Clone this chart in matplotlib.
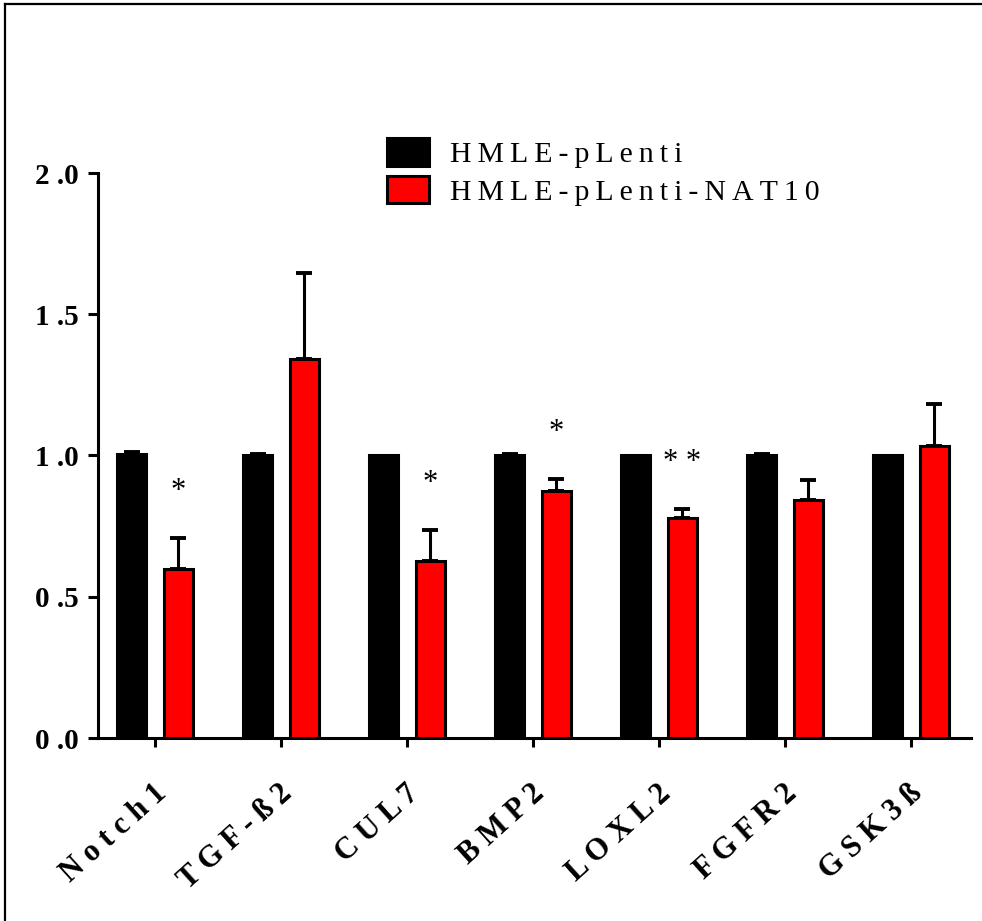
import matplotlib
matplotlib.use("Agg")
import matplotlib.pyplot as plt
from matplotlib.lines import Line2D
from matplotlib.transforms import ScaledTranslation, offset_copy
import numpy as np

# Relative mRNA expression, mean and SEM per gene
genes = ["Notch1", "TGF-ß2", "CUL7", "BMP2", "LOXL2", "FGFR2", "GSK3ß"]
series_names = ["HMLE-pLenti", "HMLE-pLenti-NAT10"]
ctrl_mean = [1.005, 1.0, 1.0, 1.0, 1.0, 1.0, 1.0]
ctrl_sem = [0.007, 0.007, 0.0, 0.007, 0.0, 0.007, 0.0]
nat10_mean = [0.598, 1.343, 0.628, 0.876, 0.777, 0.844, 1.035]
nat10_sem = [0.110, 0.303, 0.108, 0.041, 0.034, 0.069, 0.147]
significance = ["*", "", "*", "*", "**", "", ""]
yticks = [0.0, 0.5, 1.0, 1.5, 2.0]

SERIF = ["Liberation Serif", "DejaVu Serif"]
RED = "#ff0000"


def spaced(s, sep=" "):
    """Letter-spaced text."""
    return sep.join(s)


W, H = 982, 921
fig = plt.figure(figsize=(W / 100, H / 100), dpi=100)
fig.patch.set_facecolor("white")
ax = fig.add_axes([98 / W, 183 / H, (971 - 98) / W, (738 - 173) / H])

x = np.arange(len(genes))
off = 0.185
bw = 0.23
lw = 2.2

b1 = ax.bar(x - off, ctrl_mean, width=bw, color="black", edgecolor="black",
            linewidth=lw, zorder=3)
b2 = ax.bar(x + off, nat10_mean, width=bw, color=RED, edgecolor="black",
            linewidth=lw, zorder=3)

# upward-only error bars, drawn behind the bars
for xs, m, e in ((x - off, ctrl_mean, ctrl_sem), (x + off, nat10_mean, nat10_sem)):
    m = np.asarray(m)
    e = np.asarray(e)
    keep = e > 0
    ax.errorbar(xs[keep], m[keep], yerr=[np.zeros(keep.sum()), e[keep]],
                fmt="none", ecolor="black", elinewidth=lw, capsize=5.8,
                capthick=2.8, zorder=2)

# significance marks above the NAT10 bars
star_tr = offset_copy(ax.transData, fig=fig, y=-15, units="dots")
for xi, m, e, s in zip(x + off, nat10_mean, nat10_sem, significance):
    if s:
        ax.text(xi, m + e + 0.19, spaced(s), transform=star_tr, ha="center",
                va="baseline", fontsize=22, family=SERIF, color="black")

ax.set_xlim(-0.451, 6.475)
ax.set_ylim(0, 2.0)

for side in ("top", "right"):
    ax.spines[side].set_visible(False)
ax.spines["left"].set_bounds(0, 2.0)
ax.spines["left"].set_linewidth(lw)
ax.spines["bottom"].set_linewidth(lw)

ax.set_yticks(yticks)
ax.set_yticklabels([f"{v:.1f}".replace(".", " .") for v in yticks],
                   family=SERIF, fontweight="bold", fontsize=21)
ax.tick_params(axis="y", direction="out", length=7, width=lw, pad=7)

ax.set_xticks(x)
ax.set_xticklabels([spaced(g) for g in genes], rotation=42, ha="right",
                   va="top", rotation_mode="anchor", family=SERIF,
                   fontweight="bold", fontsize=22)
ax.tick_params(axis="x", direction="out", length=6.5, width=lw, pad=23)
shift = ScaledTranslation(-2 / 100, 0, fig.dpi_scale_trans)
for lab in ax.get_xticklabels():
    lab.set_transform(lab.get_transform() + shift)

ax.legend(handles=[b1, b2], labels=[spaced(n, "\u2009") for n in series_names],
          prop=dict(family=SERIF, size=21.5), frameon=False, loc="upper left",
          bbox_to_anchor=(387 / W, 1 - 138 / H), bbox_transform=fig.transFigure,
          borderpad=0, borderaxespad=0, handlelength=1.4, handleheight=1.05,
          handletextpad=0.72, labelspacing=0.25)

# outer frame (left and top edges)
fig.add_artist(Line2D([5 / W, 5 / W], [0, 1 - 4 / H], transform=fig.transFigure,
                      color="black", lw=1.6))
fig.add_artist(Line2D([5 / W, 1], [1 - 4 / H, 1 - 4 / H], transform=fig.transFigure,
                      color="black", lw=1.6))

fig.savefig("out.png", dpi=100, facecolor="white")
